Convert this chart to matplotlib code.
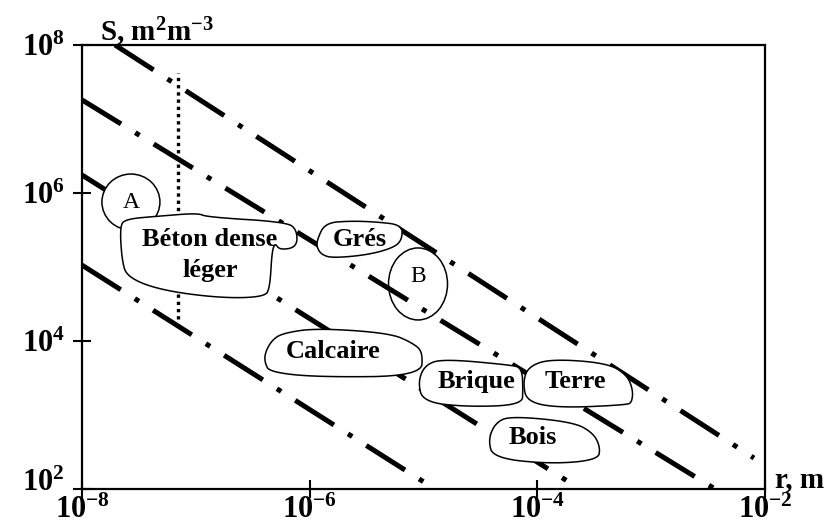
import numpy as np
import matplotlib
matplotlib.use("Agg")
import matplotlib.pyplot as plt
from matplotlib.patches import Ellipse, Polygon
from matplotlib.transforms import ScaledTranslation
from matplotlib.ticker import FixedLocator, NullLocator, FuncFormatter

plt.rcParams.update({
    "font.family": ["Liberation Serif", "DejaVu Serif"],
    "mathtext.fontset": "custom",
    "mathtext.rm": "Liberation Serif",
    "mathtext.bf": "Liberation Serif:bold",
    "mathtext.default": "bf",
    "lines.scale_dashes": False,
})

# Iso-lines S ~ 1/r, given by their two end points
line_r_start = [1.95e-8, 1e-8, 1e-8, 1e-8]
line_S_start = [1e8, 1.81e7, 1.75e6, 1.06e5]
line_r_end = [8.0e-3, 3.64e-3, 2.37e-4, 1.26e-5]
line_S_end = [262, 100, 100, 100]

# Vertical dotted marker
pore_r = 7e-8
pore_S_range = [2.0e4, 4.2e7]

# Materials and their (r, S) location
materials = ["Béton dense\nléger", "Grés", "Calcaire", "Brique", "Terre", "Bois"]
material_r = [1.33e-7, 2.77e-6, 1.60e-6, 2.95e-5, 2.14e-4, 9.2e-5]
material_S = [1.45e5, 2.32e5, 7.3e3, 2.8e3, 2.8e3, 489]

# Circled zones
zones = ["A", "B"]
zone_r = [2.69e-8, 8.95e-6]
zone_S = [7.55e5, 5.9e4]

x_ticks = [1e-8, 1e-6, 1e-4, 1e-2]
y_ticks = [1e2, 1e4, 1e6, 1e8]

# Hand-drawn outlines around each label (pixel offsets, y pointing down)
outlines = [
    [(-85, -36), (-50, -39), (-12, -42), (-3, -38), (77, -33), (87, -25), (87, -8),
     (70, -5), (65, -12), (62, -3), (60, 32), (55, 42), (10, 43), (-50, 35),
     (-83, 22), (-88, 5), (-90, -28)],
    [(-43, 0), (-35, -17), (-10, -19), (17, -18), (42, -15), (42, 0), (33, 8),
     (7, 15), (-27, 18), (-38, 15), (-43, 8)],
    [(-68, 2), (-61, -11), (-50, -18), (-16, -23), (57, -18), (80, -8), (90, 1),
     (88, 25), (-16, 26), (-63, 21), (-68, 12)],
    [(-52, -17), (-34, -23), (33, -17), (45, -14), (46, 8), (45, 23), (-10, 25),
     (-54, 20), (-59, 0)],
    [(-47, -15), (-25, -23), (32, -19), (52, -7), (58, 8), (57, 20), (52, 23),
     (-15, 26), (-48, 20), (-52, 1)],
    [(-38, -15), (-23, -22), (40, -16), (60, -5), (67, 9), (65, 22), (17, 26),
     (-40, 20), (-45, 2)],
]
zone_size = [(58, 56), (59, 72)]
zone_fill = ["white", "none"]
zone_text_dy = [0, -7]


def chaikin(pts, n=3):
    p = np.asarray(pts, float)
    for _ in range(n):
        q = np.roll(p, -1, axis=0)
        p = np.column_stack([0.75 * p + 0.25 * q, 0.25 * p + 0.75 * q]).reshape(-1, 2)
    return p


fig = plt.figure(figsize=(8.33, 5.24), dpi=100)
ax = fig.add_axes([82 / 833, 35 / 524, 683 / 833, 444 / 524])
ax.set_xscale("log")
ax.set_yscale("log")
ax.set_xlim(1e-8, 1e-2)
ax.set_ylim(1e2, 1e8)

for i in range(len(line_r_start)):
    ax.plot([line_r_start[i], line_r_end[i]], [line_S_start[i], line_S_end[i]],
            color="black", lw=3.6, solid_capstyle="butt", dash_capstyle="butt",
            dashes=(33, 12, 3.6, 12), zorder=2)

ax.plot([pore_r, pore_r], pore_S_range, color="black", lw=2.4,
        dash_capstyle="butt", dashes=(2.4, 2.8), zorder=2)


def anchor(r, s):
    return fig.dpi_scale_trans + ScaledTranslation(r, s, ax.transData)


for name, r, s, (w, h), fc, dy in zip(zones, zone_r, zone_S, zone_size, zone_fill, zone_text_dy):
    tr = anchor(r, s)
    ax.add_patch(Ellipse((0, 0), w / 100, h / 100, transform=tr, facecolor=fc,
                         edgecolor="black", lw=1.1, zorder=3))
    ax.text(0, -dy / 100, name, transform=tr, ha="center", va="center",
            fontsize=17, zorder=3.5)

for name, r, s, outline in zip(materials, material_r, material_S, outlines):
    tr = anchor(r, s)
    pts = chaikin([(dx / 100, -dy / 100) for dx, dy in outline])
    ax.add_patch(Polygon(pts, closed=True, transform=tr, facecolor="white",
                         edgecolor="black", lw=1.1, zorder=4))
    ax.text(0, 0, name, transform=tr, ha="center", va="center", fontsize=19,
            fontweight="bold", linespacing=1.45, zorder=5)


def pow10(v, pos):
    return r"$\mathbf{10^{%d}}$" % int(round(np.log10(v)))


ax.xaxis.set_major_locator(FixedLocator(x_ticks))
ax.yaxis.set_major_locator(FixedLocator(y_ticks))
ax.xaxis.set_minor_locator(NullLocator())
ax.yaxis.set_minor_locator(NullLocator())
ax.xaxis.set_major_formatter(FuncFormatter(pow10))
ax.yaxis.set_major_formatter(FuncFormatter(pow10))
ax.tick_params(which="major", direction="inout", length=12.5, width=1.5,
               labelsize=22, top=False, right=False)
ax.tick_params(axis="x", pad=-1)
ax.tick_params(axis="y", pad=6)
for sp in ax.spines.values():
    sp.set_linewidth(1.6)

# lift the lowest y label clear of the corner
lowest = ax.yaxis.get_major_ticks()[0].label1
lowest.set_transform(lowest.get_transform() + ScaledTranslation(0, 0.09, fig.dpi_scale_trans))

fig.text(100 / 833, 1 - 41 / 524, r"S, m$^{2}$m$^{-3}$", fontsize=21,
         fontweight="bold", ha="left", va="baseline")
fig.text(775 / 833, 1 - 487 / 524, "r, m", fontsize=21, fontweight="bold",
         ha="left", va="baseline")

fig.savefig("out.png", dpi=100)
